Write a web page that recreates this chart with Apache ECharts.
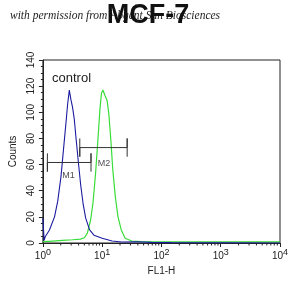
<!DOCTYPE html>
<html>
<head>
<meta charset="utf-8">
<script src="https://cdn.jsdelivr.net/npm/echarts@6/dist/echarts.min.js"></script>
<style>
  html, body { margin: 0; padding: 0; background: #fff; }
  #chart { width: 305px; height: 296px; }
</style>
</head>
<body>
<div id="chart"></div>
<script>
// FL1-H 荧光强度 (log) 与计数
const controlFl = [1, 1.05, 1.1, 1.29, 1.57, 1.78, 2.02, 2.24, 2.44, 2.61, 2.79, 2.96, 3.16, 3.38, 3.59, 3.98, 4.35, 4.77, 5.27, 6.14, 7.27, 10, 14.7, 21.5, 38.3, 68, 147, 10000]
const controlCounts = [19, 2, 5, 10, 20, 32, 51, 73, 91, 106, 117, 110, 104, 95, 82, 61, 44, 30, 19, 10, 6, 3.6, 1.5, 0.8, 1, 0.5, 0.3, 0]

const sampleFl = [1, 1.47, 2.15, 3.16, 4.3, 5.01, 5.62, 6.38, 7.0, 7.73, 8.48, 9.15, 9.73, 10.3, 11.1, 12.1, 12.9, 14.0, 15.1, 16.7, 18.5, 21.0, 24.4, 31.6, 46.4, 100, 464, 3162, 10000]
const sampleCounts = [1, 1.5, 2, 2.5, 3, 4, 7.6, 17.6, 30.6, 53, 79, 102, 114.5, 117, 113, 109, 99.5, 79, 56, 35, 20, 10, 3.6, 1.5, 1, 0.8, 0.8, 0.8, 0.8]

// 门 M1 / M2: [左, 右, 高度]
const gateM1 = [1.19, 6.48, 61.6]
const gateM2 = [4.19, 26.4, 73]
const gateLabels = [['M1', 2.7, 52], ['M2', 10.7, 61]]

const yTicks = [0, 140, 20]
const xMinorTicks = []
;[1, 10, 100, 1000].forEach(d => {
  for (let k = 2; k <= 9; k++) xMinorTicks.push(d * k)
})

function pairs(xs, ys) {
  return xs.map((x, i) => [x, ys[i]])
}

function gatePath(g) {
  const cap = 7
  return [
    [g[0], g[2] + cap], [g[0], g[2] - cap], [g[0], g[2]],
    [g[1], g[2]], [g[1], g[2] + cap], [g[1], g[2] - cap]
  ]
}

const axisColor = '#222'
const myChart = echarts.init(document.getElementById('chart'))
myChart.setOption({
  animation: false,
  grid: {
    left: 40,
    right: 25,
    top: 60,
    bottom: 53,
    show: true,
    borderColor: axisColor,
    borderWidth: 1
  },
  graphic: [
    {
      type: 'text',
      x: 10,
      y: 16,
      style: {
        text: 'with permission from Abgent San Biosciences',
        font: 'italic 11.5px "Liberation Serif"',
        fill: '#222',
        textVerticalAlign: 'middle'
      }
    },
    {
      type: 'text',
      x: 148,
      y: 16,
      style: {
        text: 'MCF-7',
        font: 'bold 27px "Liberation Sans"',
        fill: '#111',
        textAlign: 'center',
        textVerticalAlign: 'middle'
      }
    },
    {
      type: 'text',
      x: 52,
      y: 78,
      style: {
        text: 'control',
        font: '13px "Liberation Sans"',
        fill: '#222',
        textVerticalAlign: 'middle'
      }
    }
  ],
  xAxis: {
    type: 'log',
    logBase: 10,
    min: 1,
    max: 10000,
    splitLine: { show: false },
    axisLine: { lineStyle: { color: axisColor } },
    axisTick: { length: 4, lineStyle: { color: axisColor } },
    axisLabel: {
      color: axisColor,
      fontSize: 10,
      fontFamily: 'Liberation Sans',
      margin: 5,
      formatter: function(v) {
        return '10{s|' + Math.round(Math.log10(v)) + '}'
      },
      rich: {
        s: { fontSize: 9, fontFamily: 'Liberation Sans', color: axisColor, padding: [0, 0, 8, 0] }
      }
    },
    name: 'FL1-H',
    nameLocation: 'middle',
    nameGap: 18,
    nameTextStyle: { color: axisColor, fontSize: 10, fontFamily: 'Liberation Sans' }
  },
  yAxis: {
    type: 'value',
    min: yTicks[0],
    max: yTicks[1],
    interval: yTicks[2],
    splitLine: { show: false },
    axisLine: { show: true, lineStyle: { color: axisColor } },
    axisTick: { show: true, length: 4, lineStyle: { color: axisColor } },
    minorTick: { show: true, splitNumber: 4, length: 2, lineStyle: { color: axisColor } },
    axisLabel: {
      rotate: 90,
      color: axisColor,
      fontSize: 10,
      fontFamily: 'Liberation Sans',
      margin: 7
    },
    name: 'Counts',
    nameLocation: 'middle',
    nameRotate: 90,
    nameGap: 18,
    nameTextStyle: { color: axisColor, fontSize: 10, fontFamily: 'Liberation Sans' }
  },
  series: [
    {
      name: 'minor ticks',
      type: 'custom',
      silent: true,
      clip: false,
      data: xMinorTicks.map(v => [v, 0]),
      renderItem: function(params, api) {
        const p = api.coord([api.value(0), 0])
        return {
          type: 'line',
          shape: { x1: p[0], y1: p[1], x2: p[0], y2: p[1] + 2.5 },
          style: { stroke: axisColor, lineWidth: 1 }
        }
      }
    },
    {
      name: 'sample',
      type: 'line',
      showSymbol: false,
      lineStyle: { color: '#38dc38', width: 1.2 },
      data: pairs(sampleFl, sampleCounts)
    },
    {
      name: 'control',
      type: 'line',
      showSymbol: false,
      lineStyle: { color: '#1c1ca0', width: 1.1 },
      data: pairs(controlFl, controlCounts)
    },
    {
      name: 'M1',
      type: 'line',
      showSymbol: false,
      lineStyle: { color: '#333', width: 1 },
      data: gatePath(gateM1)
    },
    {
      name: 'M2',
      type: 'line',
      showSymbol: false,
      lineStyle: { color: '#333', width: 1 },
      data: gatePath(gateM2)
    },
    {
      name: 'gate labels',
      type: 'scatter',
      symbolSize: 0,
      silent: true,
      label: {
        show: true,
        position: 'inside',
        color: '#222',
        fontSize: 9,
        fontFamily: 'Liberation Sans',
        formatter: p => p.data[2]
      },
      data: gateLabels.map(l => [l[1], l[2], l[0]])
    }
  ]
})
</script>
</body>
</html>
